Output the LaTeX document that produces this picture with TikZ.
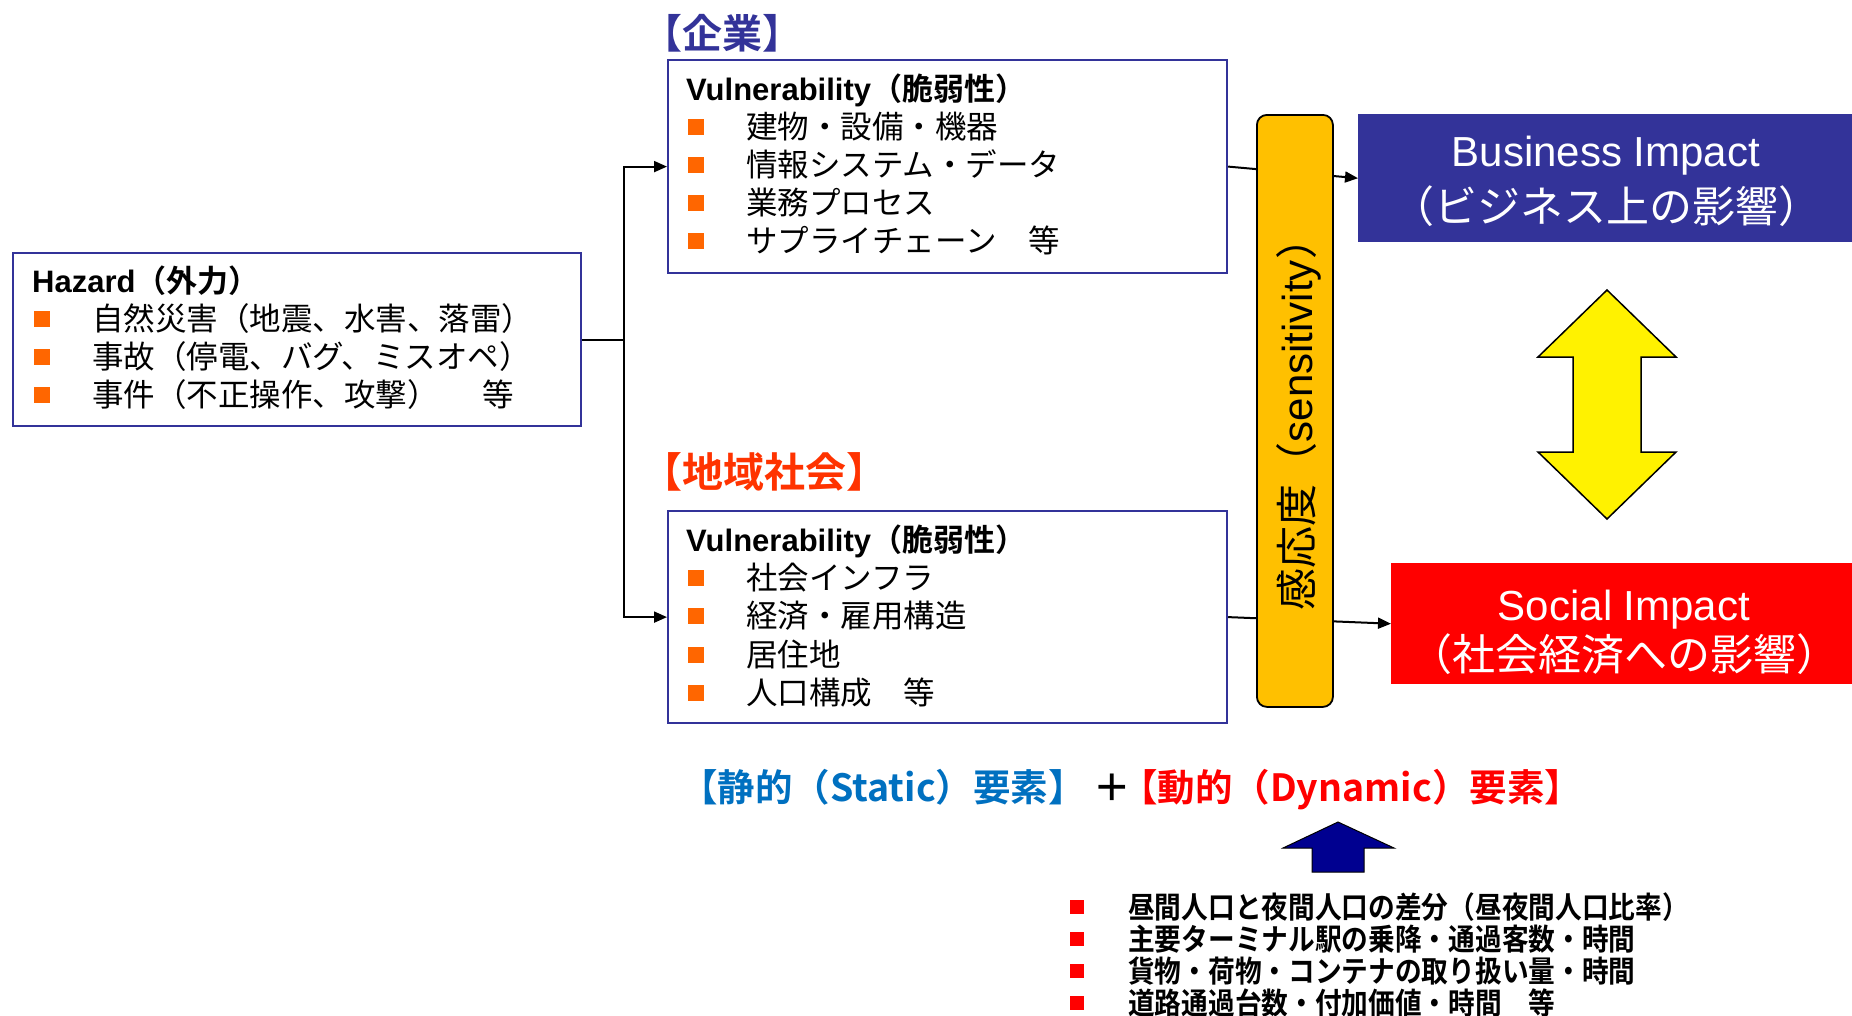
\documentclass[tikz,border=0pt]{standalone}
\usepackage{fontspec}
\setmainfont{Liberation Sans}
\newfontfamily\jp{Noto Sans CJK JP}[BoldFont={Noto Sans CJK JP Bold}]
\newfontfamily\jpc{Noto Sans CJK JP Bold}[FakeStretch=0.89]
\usetikzlibrary{arrows.meta}
\definecolor{boxblue}{HTML}{333399}
\definecolor{orangered}{HTML}{FF3300}
\definecolor{bulorange}{HTML}{FF6600}
\definecolor{barfill}{HTML}{FFC000}
\definecolor{staticblue}{HTML}{0070C0}
\definecolor{navyarrow}{HTML}{000090}
\definecolor{impred}{HTML}{FF0000}
\newcommand\bul{\makebox[60pt][l]{\hspace{2pt}\textcolor{bulorange}{\rule[3.5pt]{16pt}{16pt}}}}
\newcommand\rbul{\makebox[51pt][l]{\hspace{-7pt}\textcolor{impred}{\rule[4pt]{14pt}{14pt}}}}
\begin{document}
\begin{tikzpicture}[x=1pt,y=-1pt,
  box/.style={draw=boxblue, line width=2.2pt, fill=white, inner sep=0pt, anchor=north west},
  txt/.style={anchor=base west, inner sep=0pt, font=\fontsize{31.5}{36}\selectfont},
  ttl/.style={anchor=base west, inner sep=0pt, font=\fontsize{31}{36}\selectfont\bfseries},
  head/.style={anchor=base west, inner sep=0pt, font=\fontsize{40}{44}\selectfont\bfseries\jp},
  imptxt/.style={anchor=base, inner sep=0pt, text=white, font=\fontsize{42}{46}\selectfont},
  conn/.style={line width=2pt, -{Triangle[length=13pt,width=11pt]}},
  list/.style={anchor=base west, inner sep=0pt, font=\fontsize{30}{34}\selectfont\jpc},
  formula/.style={inner sep=0pt, font=\fontsize{37.5}{42}\selectfont\bfseries\jp},
  bigarrow/.style={draw=black, line width=1.5pt, line join=miter}
]
\useasboundingbox (0,0) rectangle (1852,1015);
\fill[white] (0,0) rectangle (1852,1015);

% Hazard box
\node[box, minimum width=568pt, minimum height=173pt] (hz) at (12,252) {};
\node[ttl] (hzt) at (32,292) {Hazard{\jp（外力）}};
\foreach \t [count=\i] in {自然災害（地震、水害、落雷）, 事故（停電、バグ、ミスオペ）, 事件（不正操作、攻撃）\hspace{1.4em}等}
  \node[txt] (hz\i) at (32,{292+38*\i}) {\bul\jp \t};

% Company
\node[head, text=boxblue] (comp) at (642,48) {【企業】};
\node[box, minimum width=559pt, minimum height=213pt] (tv) at (667,59) {};
\node[ttl] (tvt) at (686,100) {Vulnerability{\jp（脆弱性）}};
\foreach \t [count=\i] in {建物・設備・機器, 情報システム・データ, 業務プロセス, サプライチェーン　等}
  \node[txt] (tv\i) at (686,{100+38.2*\i}) {\bul\jp \t};

% Community
\node[head, text=orangered, font=\fontsize{41}{44}\selectfont\bfseries\jp] (comm) at (641,487) {【地域社会】};
\node[box, minimum width=559pt, minimum height=212pt] (bv) at (667,510) {};
\node[ttl] (bvt) at (686,551) {Vulnerability{\jp（脆弱性）}};
\foreach \t [count=\i] in {社会インフラ, 経済・雇用構造, 居住地, 人口構成　等}
  \node[txt] (bv\i) at (686,{551+38.4*\i}) {\bul\jp \t};

% Impact boxes
\node[fill=boxblue, minimum width=494pt, minimum height=128pt, inner sep=0pt, anchor=north west] (biz) at (1358,114) {};
\node[imptxt] (biz1) at (1606,166) {Business Impact};
\node[imptxt, font=\fontsize{43}{46}\selectfont] (biz2) at (1606,222) {\jp（ビジネス上の影響）};
\node[fill=impred, minimum width=461pt, minimum height=121pt, inner sep=0pt, anchor=north west] (soc) at (1391,563) {};
\node[imptxt] (soc1) at (1624,620) {Social Impact};
\node[imptxt, font=\fontsize{43}{46}\selectfont] (soc2) at (1624,670) {\jp（社会経済への影響）};

% Connectors
\draw[line width=2pt] (hz.east) -- ++(42,0) coordinate (j);
\draw[conn] (j) |- (tv.west);
\draw[conn] (j) |- (bv.west);
\draw[conn] (tv.east) -- (biz.west);
\draw[conn] (bv.east) -- (soc.west);

% Sensitivity bar
\node[draw=black, line width=1.8pt, fill=barfill, rounded corners=10pt, minimum width=76pt, minimum height=592pt, inner sep=0pt, anchor=north west] (bar) at (1256,114) {};
\node[rotate=90, anchor=base, inner sep=0pt, font=\fontsize{42}{46}\selectfont] (sens) at (1312,414) {{\jp 感応度（}sensitivity{\jp ）}};

% Yellow double arrow
\draw[bigarrow, fill=yellow] (1607,290) -- (1676,357) -- (1641,357) -- (1641,452) -- (1676,452) -- (1607,519) -- (1538,452) -- (1573,452) -- (1573,357) -- (1538,357) -- cycle;

% Static + Dynamic
\node[formula, anchor=base west, text=staticblue] (stat) at (680,801) {【静的（Static）要素】};
\node[formula, anchor=base] (plus) at (1112,801) {＋};
\node[formula, anchor=base west, text=impred] (dyn) at (1120,801) {【動的（Dynamic）要素】};

% Blue up arrow
\draw[line width=1pt, draw=black, fill=navyarrow] (1338,822) -- (1394,848) -- (1364,848) -- (1364,872) -- (1312,872) -- (1312,848) -- (1283,848) -- cycle;

% Dynamic factor list
\foreach \t [count=\i] in {昼間人口と夜間人口の差分（昼夜間人口比率）, 主要ターミナル駅の乗降・通過客数・時間, 貨物・荷物・コンテナの取り扱い量・時間, 道路通過台数・付加価値・時間　等}
  \node[list] (dl\i) at (1077,{886+32*\i}) {\rbul\t};
\end{tikzpicture}
\end{document}
